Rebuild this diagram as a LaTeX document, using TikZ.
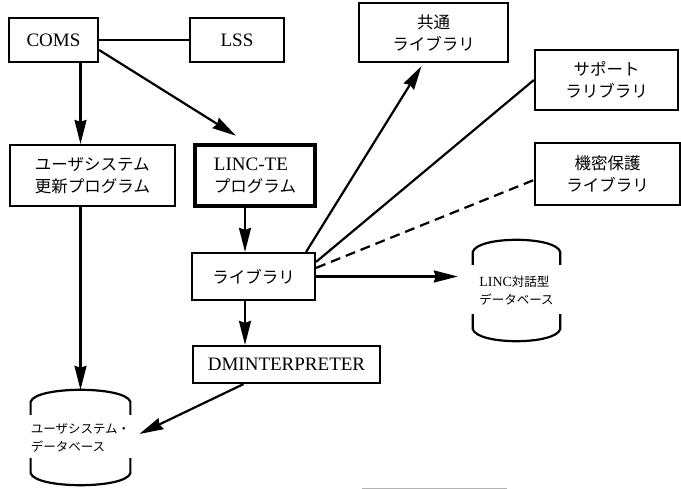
\documentclass[tikz,border=0pt]{standalone}
\usepackage{fontspec}
\setmainfont{Liberation Serif}
\newfontfamily\jpfont{Noto Sans CJK JP}
\usetikzlibrary{arrows.meta,calc}

% open-sided database symbol drawn around a named node
\newcommand\dbdraw[1]{%
  \draw[link] ($(#1.north west)+(0,25)$) -- ($(#1.north west)+(0,12)$)
    .. controls ($(#1.north west)+(5,-4)$) and ($(#1.north east)+(-5,-4)$) ..
    ($(#1.north east)+(0,12)$) -- ($(#1.north east)+(0,25)$);
  \draw[link] ($(#1.south west)+(0,-28)$) -- ($(#1.south west)+(0,-13)$)
    .. controls ($(#1.south west)+(5,3)$) and ($(#1.south east)+(-5,3)$) ..
    ($(#1.south east)+(0,-13)$) -- ($(#1.south east)+(0,-28)$);
}

\begin{document}
\begin{tikzpicture}[x=1pt,y=-1pt,
  box/.style={draw,line width=2.2pt,inner sep=0pt,align=center,
    font=\fontsize{19}{22}\selectfont},
  jpbox/.style={box,font=\fontsize{16.5}{22}\jpfont},
  dbnode/.style={inner sep=0pt,align=left,font=\fontsize{12.5}{18}\jpfont},
  link/.style={line width=2.2pt},
  arr/.style={link,-{Stealth[length=24pt,width=12pt,inset=2pt]}},
]
\useasboundingbox (0,0) rectangle (681,489);

% boxes
\node[box,minimum width=89pt,minimum height=44pt] (coms) at (53.5,40) {COMS};
\node[box,minimum width=94pt,minimum height=44pt] (lss) at (237,40) {LSS};
\node[jpbox,align=left,minimum width=165pt,minimum height=61pt] (upd) at (92.5,175.5)
  {ユーザシステム\\更新プログラム};
\node[box,align=left,line width=4.5pt,minimum width=120pt,minimum height=61pt] (lincte) at (255,175.5)
  {LINC-TE\\{\fontsize{16.5}{22}\jpfont プログラム}};
\node[jpbox,minimum width=123pt,minimum height=47pt] (lib) at (253.5,276.5) {ライブラリ};
\node[box,minimum width=187pt,minimum height=37pt] (dmi) at (286.5,364.5) {DMINTERPRETER};
\node[jpbox,minimum width=149pt,minimum height=59pt] (shared) at (433.5,32.5)
  {共通\\ライブラリ};
\node[jpbox,minimum width=143pt,minimum height=60pt] (support) at (606.5,80)
  {サポート\\ラリブラリ};
\node[jpbox,minimum width=145pt,minimum height=62pt] (security) at (607.5,174)
  {機密保護\\ライブラリ};

% databases
\node[dbnode,minimum width=95pt,minimum height=96pt] (udb) at (80.5,438)
  {ユーザシステム・\\データベース};
\node[dbnode,minimum width=87pt,minimum height=102pt] (ldb) at (516.5,291)
  {{\rmfamily\fontsize{14}{19}\selectfont LINC}対話型\\データベース};
\dbdraw{udb}
\dbdraw{ldb}

% connectors
\draw[link] (coms) -- (lss);
\draw[arr] (coms.south -| udb.north) -- (upd.north -| udb.north);
\draw[arr] ([yshift=-10pt]coms.east) -- ([shift={(-19pt,7pt)}]lincte.north);
\draw[arr] (upd.south -| udb.north) -- (udb.north);
\draw[arr] ([xshift=-10pt]lincte.south) -- ([xshift=-10pt]lincte.south |- lib.north);
\draw[arr] ([xshift=-8.5pt]lib.south) -- ([xshift=-8.5pt]lib.south |- dmi.north);
\draw[arr] ([xshift=-43pt]dmi.south) -- ([shift={(9pt,4pt)}]udb.east);
\draw[arr] (lib.east) -- ([xshift=-15pt]ldb.west |- lib.east);
\draw[arr] ([xshift=-10pt]lib.north east) -- ([shift={(-12pt,-3pt)}]shared.south);
\draw[link] ([yshift=-10pt]lib.north east) -- (support.west);
\draw[link,dash pattern=on 10pt off 6pt] ([yshift=-16pt]lib.north east) -- ([yshift=-6pt]security.west);

% rule at the foot
\coordinate (ruleL) at (362,488);
\coordinate (ruleR) at (507,488);
\draw[gray!60,line width=1pt] (ruleL) -- (ruleR);
\end{tikzpicture}
\end{document}
